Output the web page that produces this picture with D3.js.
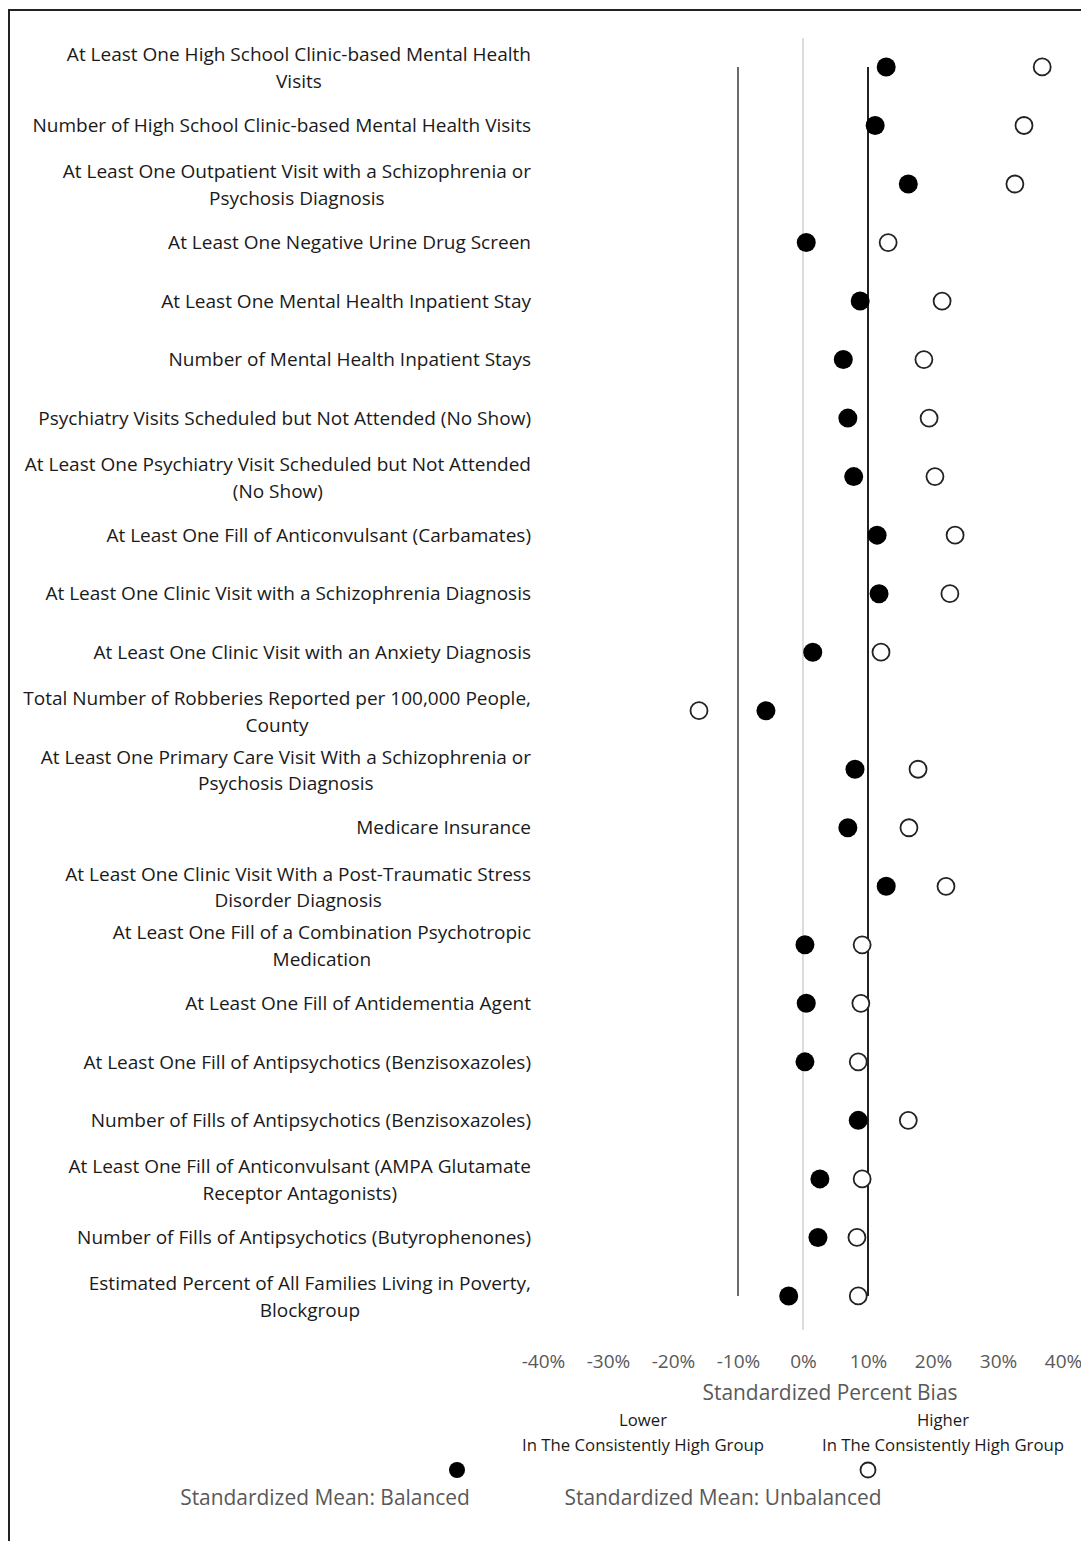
<!DOCTYPE html>
<html>
<head>
<meta charset="utf-8">
<script src="https://cdn.jsdelivr.net/npm/d3@7.9.0/dist/d3.min.js"></script>
<style>
  body { margin: 0; background: #fff; }
  svg { display: block; font-family: "Open Sans", sans-serif; }
</style>
</head>
<body>
<svg id="chart" width="1081" height="1541"></svg>
<script>
// covariate labels, line breaks as in the original
const labels = [
  ["At Least One High School Clinic-based Mental Health", "Visits"],
  ["Number of High School Clinic-based Mental Health Visits"],
  ["At Least One Outpatient Visit with a Schizophrenia or", "Psychosis Diagnosis"],
  ["At Least One Negative Urine Drug Screen"],
  ["At Least One Mental Health Inpatient Stay"],
  ["Number of Mental Health Inpatient Stays"],
  ["Psychiatry Visits Scheduled but Not Attended (No Show)"],
  ["At Least One Psychiatry Visit Scheduled but Not Attended", "(No Show)"],
  ["At Least One Fill of Anticonvulsant (Carbamates)"],
  ["At Least One Clinic Visit with a Schizophrenia Diagnosis"],
  ["At Least One Clinic Visit with an Anxiety Diagnosis"],
  ["Total Number of Robberies Reported per 100,000 People,", "County"],
  ["At Least One Primary Care Visit With a Schizophrenia or", "Psychosis Diagnosis"],
  ["Medicare Insurance"],
  ["At Least One Clinic Visit With a Post-Traumatic Stress", "Disorder Diagnosis"],
  ["At Least One Fill of a Combination Psychotropic", "Medication"],
  ["At Least One Fill of Antidementia Agent"],
  ["At Least One Fill of Antipsychotics (Benzisoxazoles)"],
  ["Number of Fills of Antipsychotics (Benzisoxazoles)"],
  ["At Least One Fill of Anticonvulsant (AMPA Glutamate", "Receptor Antagonists)"],
  ["Number of Fills of Antipsychotics (Butyrophenones)"],
  ["Estimated Percent of All Families Living in Poverty,", "Blockgroup"]
];

// standardized percent bias, after weighting (balanced) and before (unbalanced)
const balanced   = [12.8, 11.1, 16.2, 0.5, 8.8, 6.2, 6.9, 7.8, 11.4, 11.7, 1.5, -5.7,
                    8.0, 6.9, 12.8, 0.3, 0.5, 0.3, 8.5, 2.6, 2.3, -2.2];
const unbalanced = [36.8, 34.0, 32.6, 13.1, 21.4, 18.6, 19.4, 20.3, 23.4, 22.6, 12.0, -16.0,
                    17.7, 16.3, 22.0, 9.1, 8.9, 8.5, 16.2, 9.1, 8.3, 8.5];

const ticks = [-40, -30, -20, -10, 0, 10, 20, 30, 40];
const thresholds = [-10, 10];

const svg = d3.select('#chart');

// frame (top and left edges of the original box)
svg.append('path')
  .attr('d', 'M9,1541 V10 H1081')
  .attr('fill', 'none')
  .attr('stroke', '#222')
  .attr('stroke-width', 2);

const x = d3.scaleLinear().domain([-40, 40]).range([543, 1063]);
const y = d3.scaleBand().domain(d3.range(labels.length)).range([37.7, 1325.2]);
const yc = (i) => y(i) + y.bandwidth() / 2;

// light zero line
svg.append('line')
  .attr('x1', x(0)).attr('x2', x(0))
  .attr('y1', 38).attr('y2', 1330)
  .attr('stroke', '#d0d0d0')
  .attr('stroke-width', 1.5);

// +/-10% threshold lines
svg.selectAll('line.thr')
  .data(thresholds)
  .join('line')
  .attr('class', 'thr')
  .attr('x1', (d) => x(d)).attr('x2', (d) => x(d))
  .attr('y1', yc(0)).attr('y2', yc(labels.length - 1))
  .attr('stroke', (d) => (d < 0 ? '#6a6a6a' : '#222'))
  .attr('stroke-width', 2);

// category labels: block right aligned, lines centered inside block
const labelG = svg.append('g').attr('fill', '#1a1a1a');
let fontSize = 18;
const probe = labelG.append('text').attr('font-size', fontSize).text(labels[1][0]);
fontSize = fontSize * 499 / probe.node().getComputedTextLength();
probe.remove();

labels.forEach((lines, i) => {
  const widths = lines.map((l) => {
    const t = labelG.append('text').attr('font-size', fontSize).text(l);
    const w = t.node().getComputedTextLength();
    t.remove();
    return w;
  });
  const blockW = d3.max(widths);
  const cx = 531 - blockW / 2;
  const lh = 26.5;
  const top = yc(i) - (lines.length - 1) * lh / 2;
  lines.forEach((l, j) => {
    labelG.append('text')
      .attr('x', cx)
      .attr('y', top + j * lh + (lines.length > 1 ? 1 : 0))
      .attr('dy', '0.35em')
      .attr('text-anchor', 'middle')
      .attr('font-size', fontSize)
      .text(l);
  });
});

// markers
svg.append('g').selectAll('circle')
  .data(unbalanced)
  .join('circle')
  .attr('cx', (d) => x(d))
  .attr('cy', (d, i) => yc(i))
  .attr('r', 8.5)
  .attr('fill', '#fff')
  .attr('stroke', '#222')
  .attr('stroke-width', 1.8);

svg.append('g').selectAll('circle')
  .data(balanced)
  .join('circle')
  .attr('cx', (d) => x(d))
  .attr('cy', (d, i) => yc(i))
  .attr('r', 9.5)
  .attr('fill', '#000');

// x axis
const xAxis = d3.axisBottom(x)
  .tickValues(ticks)
  .tickSize(0)
  .tickPadding(0)
  .tickFormat((d) => d + '%');
const ax = svg.append('g')
  .attr('transform', 'translate(0,1354)')
  .call(xAxis);
ax.select('.domain').remove();
ax.selectAll('text')
  .attr('font-size', fontSize)
  .attr('font-family', '"Open Sans", sans-serif')
  .attr('fill', '#595959');

svg.append('text')
  .attr('x', 830).attr('y', 1393)
  .attr('dy', '0.35em')
  .attr('text-anchor', 'middle')
  .attr('font-size', fontSize * 1.1)
  .attr('fill', '#595959')
  .text('Standardized Percent Bias');

// direction notes
const notes = [
  { x: 643, lines: ['Lower', 'In The Consistently High Group'] },
  { x: 943, lines: ['Higher', 'In The Consistently High Group'] }
];
notes.forEach((n) => {
  n.lines.forEach((l, j) => {
    svg.append('text')
      .attr('x', n.x).attr('y', 1420 + j * 25)
      .attr('dy', '0.35em')
      .attr('text-anchor', 'middle')
      .attr('font-size', fontSize * 0.88)
      .attr('fill', '#1a1a1a')
      .text(l);
  });
});

// legend
const legend = [
  { name: 'Standardized Mean: Balanced', dot: 457, text: 325, filled: true },
  { name: 'Standardized Mean: Unbalanced', dot: 868, text: 723, filled: false }
];
legend.forEach((d) => {
  svg.append('circle')
    .attr('cx', d.dot).attr('cy', 1470)
    .attr('r', d.filled ? 8 : 7.5)
    .attr('fill', d.filled ? '#000' : '#fff')
    .attr('stroke', d.filled ? 'none' : '#222')
    .attr('stroke-width', 1.8);
  svg.append('text')
    .attr('x', d.text).attr('y', 1498)
    .attr('dy', '0.35em')
    .attr('text-anchor', 'middle')
    .attr('font-size', fontSize * 1.1)
    .attr('fill', '#595959')
    .text(d.name);
});
</script>
</body>
</html>
